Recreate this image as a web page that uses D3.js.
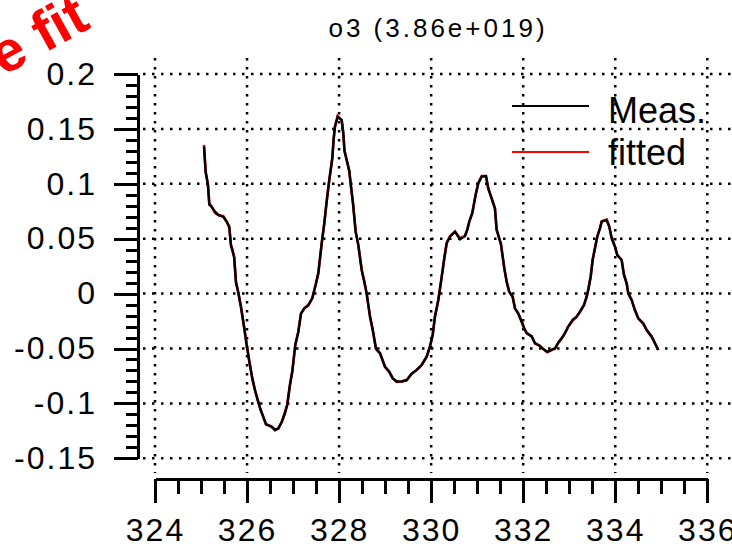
<!DOCTYPE html>
<html>
<head>
<meta charset="utf-8">
<script src="https://cdn.jsdelivr.net/npm/d3@7"></script>
<style>
  html, body { margin: 0; padding: 0; background: #fff; }
  svg { display: block; }
  text { font-family: "Liberation Sans", Arial, sans-serif; fill: #000; }
</style>
</head>
<body>
<div id="chart"></div>
<script>
// chart data
var chartTitle = "o3 (3.86e+019)";
var stampText = "Line fit";
var seriesNames = ["Meas.", "fitted"];
var seriesColors = ["#000000", "#ff0000"];
var xTicks = [324, 326, 328, 330, 332, 334, 336];
var yTicks = [-0.15, -0.1, -0.05, 0, 0.05, 0.1, 0.15, 0.2];
var yTickLabels = ["-0.15", "-0.1", "-0.05", "0", "0.05", "0.1", "0.15", "0.2"];

var wavelength = [
  325.065, 325.10, 325.15, 325.18, 325.232, 325.303, 325.375, 325.484, 325.558, 325.614,
  325.65, 325.679, 325.72, 325.76, 325.810, 325.868, 325.934, 325.992, 326.049, 326.114,
  326.173, 326.231, 326.296, 326.353, 326.411, 326.535, 326.607, 326.679, 326.753, 326.824,
  326.874, 326.933, 326.983, 327.048, 327.113, 327.172, 327.244, 327.330, 327.417, 327.491,
  327.548, 327.622, 327.678, 327.730, 327.787, 327.852, 327.880, 327.910, 327.969, 328.056,
  328.090, 328.117, 328.221, 328.260, 328.302, 328.360, 328.417, 328.491, 328.547, 328.599,
  328.671, 328.730, 328.801, 328.860, 328.888, 328.997, 329.090, 329.164, 329.251, 329.360,
  329.468, 329.577, 329.685, 329.794, 329.903, 329.974, 330.033, 330.083, 330.155, 330.229,
  330.285, 330.337, 330.409, 330.518, 330.626, 330.735, 330.785, 330.828, 330.893, 330.967,
  331.024, 331.098, 331.191, 331.241, 331.328, 331.386, 331.423, 331.517, 331.589, 331.641,
  331.697, 331.771, 331.821, 331.893, 331.967, 332.023, 332.075, 332.184, 332.256, 332.364,
  332.451, 332.523, 332.618, 332.690, 332.762, 332.836, 332.907, 332.979, 333.074, 333.161,
  333.233, 333.320, 333.379, 333.413, 333.466, 333.509, 333.559, 333.609, 333.668, 333.705,
  333.813, 333.870, 333.922, 333.993, 334.044, 334.139, 334.189, 334.248, 334.283, 334.356,
  334.428, 334.500, 334.608, 334.682, 334.791, 334.862, 334.934
];

var measured = [
  0.134, 0.111, 0.099, 0.081, 0.079, 0.0746, 0.0716, 0.070, 0.0655, 0.061,
  0.044, 0.040, 0.033, 0.010, 0.001, -0.012, -0.030, -0.047, -0.062, -0.077,
  -0.088, -0.097, -0.106, -0.112, -0.119, -0.121, -0.124, -0.123, -0.117, -0.109,
  -0.101, -0.083, -0.071, -0.047, -0.035, -0.018, -0.0134, -0.0104, -0.0043, 0.0078,
  0.0185, 0.0458, 0.064, 0.0837, 0.1035, 0.123, 0.140, 0.152, 0.161, 0.158,
  0.147, 0.130, 0.112, 0.097, 0.0825, 0.0564, 0.0443, 0.0215, 0.0108, 0.000,
  -0.021, -0.033, -0.050, -0.053, -0.054, -0.0666, -0.071, -0.077, -0.080, -0.080,
  -0.079, -0.073, -0.0696, -0.065, -0.0575, -0.048, -0.0377, -0.021, -0.006, 0.015,
  0.032, 0.0458, 0.0518, 0.0564, 0.0495, 0.0525, 0.058, 0.0655, 0.073, 0.090,
  0.1005, 0.1065, 0.107, 0.096, 0.085, 0.0777, 0.058, 0.045, 0.023, 0.0108,
  0.0017, -0.0028, -0.0134, -0.018, -0.0256, -0.0316, -0.036, -0.039, -0.045, -0.0477,
  -0.051, -0.053, -0.051, -0.050, -0.0447, -0.0407, -0.036, -0.030, -0.024, -0.021,
  -0.0165, -0.0104, -0.0028, 0.0033, 0.0154, 0.0306, 0.0413, 0.0518, 0.0595, 0.0655,
  0.067, 0.061, 0.0504, 0.0427, 0.035, 0.0306, 0.017, 0.0094, 0.000, -0.0058,
  -0.015, -0.0225, -0.027, -0.0332, -0.039, -0.045, -0.0514
];

var fitted = [
  0.1355, 0.111, 0.0995, 0.0825, 0.079, 0.0735, 0.0716, 0.0705, 0.0655, 0.060,
  0.0445, 0.040, 0.0335, 0.0105, 0.001, -0.0125, -0.030, -0.046, -0.0615, -0.0775,
  -0.088, -0.0965, -0.106, -0.113, -0.119, -0.1215, -0.1245, -0.1225, -0.117, -0.108,
  -0.101, -0.0825, -0.071, -0.0465, -0.035, -0.0185, -0.0134, -0.011, -0.0043, 0.0085,
  0.0185, 0.046, 0.064, 0.0845, 0.1035, 0.1235, 0.140, 0.152, 0.162, 0.158,
  0.146, 0.130, 0.1115, 0.097, 0.082, 0.0564, 0.0445, 0.0215, 0.0115, 0.000,
  -0.0205, -0.033, -0.0505, -0.053, -0.0545, -0.0666, -0.0715, -0.077, -0.0805, -0.080,
  -0.0785, -0.073, -0.0695, -0.065, -0.0575, -0.0485, -0.0377, -0.0205, -0.006, 0.0155,
  0.032, 0.046, 0.0525, 0.0564, 0.0505, 0.0525, 0.0585, 0.0655, 0.0735, 0.090,
  0.1005, 0.107, 0.107, 0.0955, 0.085, 0.0775, 0.0585, 0.045, 0.0235, 0.0108,
  0.0015, -0.0028, -0.0135, -0.0185, -0.0256, -0.032, -0.036, -0.039, -0.0455, -0.0477,
  -0.051, -0.0535, -0.0515, -0.050, -0.0447, -0.041, -0.036, -0.030, -0.0245, -0.021,
  -0.0165, -0.0105, -0.0028, 0.0035, 0.0154, 0.031, 0.0413, 0.052, 0.0595, 0.066,
  0.0675, 0.061, 0.0504, 0.043, 0.035, 0.0306, 0.0175, 0.0094, 0.0005, -0.0058,
  -0.0155, -0.0225, -0.0275, -0.0332, -0.0395, -0.0455, -0.0514
];

var width = 732, height = 548;

var svg = d3.select("#chart").append("svg")
    .attr("width", width)
    .attr("height", height);

var x = d3.scaleLinear().domain([324, 336]).range([155, 707.3]);
var y = d3.scaleLinear().domain([-0.15, 0.2]).range([458.3, 74]);

// dotted grid
var grid = svg.append("g")
    .attr("stroke", "#000")
    .attr("stroke-width", 2.5)
    .attr("stroke-dasharray", "2.5,6.5");

grid.selectAll("line.hgrid")
    .data(yTicks)
  .enter().append("line")
    .attr("class", "hgrid")
    .attr("x1", 143).attr("x2", width)
    .attr("y1", function (d) { return y(d); })
    .attr("y2", function (d) { return y(d); });

grid.selectAll("line.vgrid")
    .data(xTicks)
  .enter().append("line")
    .attr("class", "vgrid")
    .attr("x1", function (d) { return x(d); })
    .attr("x2", function (d) { return x(d); })
    .attr("y1", 58).attr("y2", 473);

// y axis: minor then major ticks
var yAxisX = 138;
svg.append("g")
    .attr("transform", "translate(" + yAxisX + ",0)")
    .call(d3.axisLeft(y).ticks(35).tickSize(12).tickSizeOuter(0).tickFormat(""))
    .call(styleAxis);

svg.append("g")
    .attr("transform", "translate(" + yAxisX + ",0)")
    .call(d3.axisLeft(y).tickValues(yTicks).tickSize(24).tickSizeOuter(0).tickPadding(17)
        .tickFormat(function (d, i) { return yTickLabels[i]; }))
    .call(styleAxis);

// x axis
var xAxisY = 479.3;
svg.append("g")
    .attr("transform", "translate(0," + xAxisY + ")")
    .call(d3.axisBottom(x).ticks(24).tickSize(15).tickSizeOuter(0).tickFormat(""))
    .call(styleAxis);

svg.append("g")
    .attr("transform", "translate(0," + xAxisY + ")")
    .call(d3.axisBottom(x).tickValues(xTicks).tickSize(24).tickSizeOuter(0).tickPadding(15)
        .tickFormat(d3.format("d")))
    .call(styleAxis);

function styleAxis(g) {
    g.selectAll("path, line")
        .attr("stroke", "#000")
        .attr("stroke-width", 3)
        .attr("shape-rendering", "crispEdges");
    g.selectAll("text")
        .attr("font-family", "'Liberation Sans', Arial, sans-serif")
        .attr("font-size", 32)
        .attr("letter-spacing", 2)
        .attr("fill", "#000");
}

// the two curves, fitted underneath the measurement
var points = wavelength.map(function (w, i) {
    return { w: w, meas: measured[i], fit: fitted[i] };
});

var fitLine = d3.line()
    .x(function (d) { return x(d.w); })
    .y(function (d) { return y(d.fit); });
var measLine = d3.line()
    .x(function (d) { return x(d.w); })
    .y(function (d) { return y(d.meas); });

svg.append("path")
    .datum(points)
    .attr("fill", "none")
    .attr("stroke", seriesColors[1])
    .attr("stroke-width", 2.5)
    .attr("d", fitLine);

svg.append("path")
    .datum(points)
    .attr("fill", "none")
    .attr("stroke", seriesColors[0])
    .attr("stroke-width", 2.5)
    .attr("d", measLine);

// title
svg.append("text")
    .attr("x", 438)
    .attr("y", 37)
    .attr("text-anchor", "middle")
    .attr("font-size", 26)
    .attr("letter-spacing", 3)
    .text(chartTitle);

// legend
var legend = svg.append("g");
seriesNames.forEach(function (name, i) {
    var ly = [106, 152][i];
    legend.append("line")
        .attr("x1", 512).attr("x2", 589)
        .attr("y1", ly).attr("y2", ly)
        .attr("stroke", seriesColors[i])
        .attr("stroke-width", 2);
    legend.append("text")
        .attr("x", 608)
        .attr("y", [123.3, 165][i])
        .attr("font-size", 36)
        .text(name);
});

// rotated red stamp in the corner
svg.append("text")
    .attr("transform", "translate(92,27) rotate(-29)")
    .attr("text-anchor", "end")
    .attr("font-size", 57)
    .attr("font-weight", "bold")
    .style("fill", "#ff0000")
    .text(stampText);
</script>
</body>
</html>
